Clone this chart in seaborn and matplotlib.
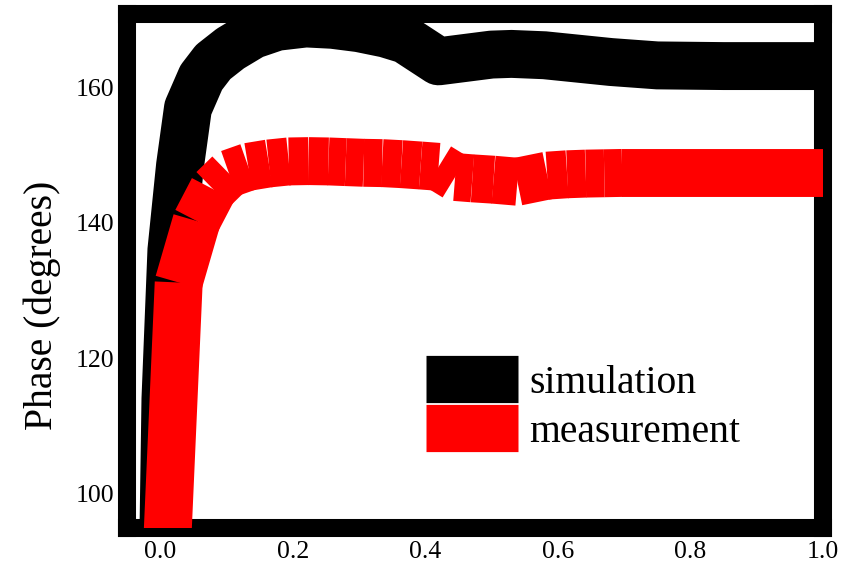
import pandas as pd
import matplotlib
matplotlib.use("Agg")
import matplotlib.pyplot as plt
import seaborn as sns

# data
sim_x = [0.004, 0.008, 0.017, 0.03, 0.042, 0.062, 0.08, 0.106, 0.14, 0.176, 0.22, 0.26,
         0.30, 0.34, 0.37, 0.42, 0.46, 0.50, 0.53, 0.58, 0.62, 0.68, 0.75, 0.85, 1.0]
sim_y = [88, 114, 136, 148.5, 157, 161.5, 163.8, 165.8, 167.8, 169.0, 169.5, 169.3,
         168.8, 168.0, 167.1, 163.9, 164.4, 164.9, 165.0, 164.8, 164.4, 163.8, 163.3, 163.2, 163.2]

meas_x = [0.0, 0.028, 0.055, 0.08, 0.104, 0.133, 0.164, 0.194, 0.224, 0.254, 0.28, 0.307,
          0.335, 0.364, 0.393, 0.42, 0.445, 0.471, 0.503, 0.539, 0.584, 0.614, 0.642, 0.67,
          0.697, 0.725, 0.753, 0.78, 0.808, 0.836, 0.863, 0.891, 0.919, 0.947, 0.974, 1.0]
meas_y = [69, 131.2, 140.3, 145.0, 147.3, 148.3, 148.8, 149.1, 149.15, 149.1, 149.0, 148.9,
          148.85, 148.7, 148.5, 148.3, 146.8, 146.6, 146.4, 146.1, 147.0, 147.2, 147.3, 147.35,
          147.4, 147.4, 147.4, 147.4, 147.4, 147.4, 147.4, 147.4, 147.4, 147.4, 147.4, 147.4]

xticks = [0.0, 0.2, 0.4, 0.6, 0.8, 1.0]
yticks = [100, 120, 140, 160]

sns.set_style("white")
plt.rcParams['font.family'] = ['Liberation Serif', 'DejaVu Serif']
plt.rcParams['text.color'] = 'black'
plt.rcParams['axes.labelcolor'] = 'black'

fig = plt.figure(figsize=(8.59, 5.70), dpi=100)
ax = fig.add_axes([127 / 859, 1 - 528 / 570, 696 / 859, 514 / 570])

sim = pd.DataFrame({'x': sim_x, 'y': sim_y})
sns.lineplot(data=sim, x='x', y='y', color='black', lw=34.5, sort=False,
             label='simulation', ax=ax, zorder=3)

# measurement drawn segment by segment (butt ends)
for i in range(len(meas_x) - 1):
    ax.plot(meas_x[i:i + 2], meas_y[i:i + 2], color='red', lw=34.5,
            solid_capstyle='butt', zorder=3,
            label='measurement' if i == 0 else '_nolegend_')

ax.set_xlim(-0.05, 1.0)
ax.set_ylim(94.9, 170.9)
ax.set_xticks(xticks)
ax.set_yticks(yticks)
ax.set_xticklabels([f"{t:.1f}" for t in xticks])
ax.set_xlabel('')
ax.set_ylabel('Phase (degrees)', fontsize=28.5, color='black')
ax.yaxis.set_label_coords(-0.095, 0.434)

for s in ax.spines.values():
    s.set_linewidth(13)
    s.set_color('black')
ax.tick_params(direction='in', length=8, width=13, labelsize=18.5, pad=9,
               colors='black', labelcolor='black')

leg = ax.legend(loc='upper left', bbox_to_anchor=(0.4296, 0.318), frameon=False,
                fontsize=28.5, handlelength=2.32, handletextpad=0.28, labelspacing=0.32,
                borderpad=0, borderaxespad=0)
for h in leg.legend_handles:
    h.set_solid_capstyle('butt')
    h.set_linewidth(34)
for t in leg.get_texts():
    t.set_color('black')

fig.savefig('out.png', dpi=100)
